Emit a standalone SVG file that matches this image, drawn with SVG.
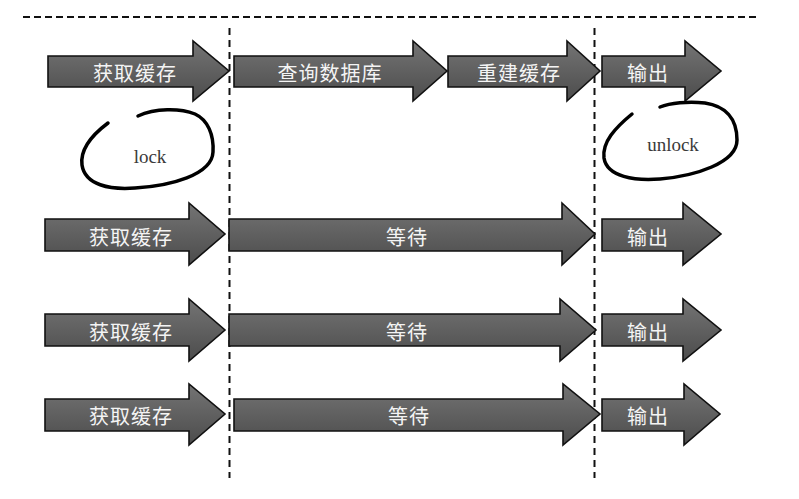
<svg xmlns="http://www.w3.org/2000/svg" width="799" height="499" viewBox="0 0 799 499">
<defs>
<linearGradient id="g" x1="0" y1="0" x2="0" y2="1">
<stop offset="0" stop-color="#747474"/>
<stop offset="1" stop-color="#4c4c4c"/>
</linearGradient>
<style>
.arr{fill:url(#g);stroke:#111;stroke-width:1.6;stroke-linejoin:miter}
.lbl{fill:#f4f4f4;font-family:"Noto Sans CJK SC","Noto Sans",sans-serif;font-size:20px;letter-spacing:1px;text-anchor:middle;dominant-baseline:central}
.dash{stroke:#111;stroke-width:2;fill:none}
.loop{fill:none;stroke:#000;stroke-width:3.5;stroke-linecap:round}
.hand{fill:#3a3a3a;font-family:"Liberation Serif",serif;font-size:19px;text-anchor:middle}
</style>
</defs>
<rect width="799" height="499" fill="#fff"/>
<g id="guides">
<line class="dash" x1="23" y1="17" x2="758" y2="17" stroke-dasharray="7 4" stroke-width="1.6"/>
<line class="dash" x1="229.5" y1="28" x2="229.5" y2="478" stroke-dasharray="7 5"/>
<line class="dash" x1="594.5" y1="28" x2="594.5" y2="478" stroke-dasharray="7 5"/>
</g>
<g id="row1">
<g id="r1-get"><polygon class="arr" points="48,56 193,56 193,41 229,71 193,101 193,87 48,87"/><text class="lbl" x="135" y="72">获取缓存</text></g>
<g id="r1-query"><polygon class="arr" points="234,56 413,56 413,41 447,71 413,101 413,87 234,87"/><text class="lbl" x="330" y="72">查询数据库</text></g>
<g id="r1-rebuild"><polygon class="arr" points="448,56 567,56 567,41 600,71 567,101 567,87 448,87"/><text class="lbl" x="519" y="72">重建缓存</text></g>
<g id="r1-out"><polygon class="arr" points="602,56 685,56 685,41 721,71 685,101 685,87 602,87"/><text class="lbl" x="648" y="72">输出</text></g>
</g>
<g id="lock">
<path class="loop" d="M108,123 C92,135 80,150 82,165 C85,185 110,190 135,188 C170,186 212,175 213,152 C214,135 208,120 195,114 C180,108 155,108 138,116"/>
<text class="hand" x="150" y="163">lock</text>
</g>
<g id="unlock">
<path class="loop" d="M632,114 C615,128 602,142 604,158 C607,177 635,181 660,179 C695,176 737,163 737,140 C737,118 725,106 705,103 C688,101 670,103 660,107"/>
<text class="hand" x="673" y="151">unlock</text>
</g>
<g id="row2">
<g id="r2-get"><polygon class="arr" points="45,219 189,219 189,203 225,234 189,265 189,251 45,251"/><text class="lbl" x="131" y="236">获取缓存</text></g>
<g id="r2-wait"><polygon class="arr" points="229,219 562,219 562,203 595,234 562,265 562,251 229,251"/><text class="lbl" x="407" y="236">等待</text></g>
<g id="r2-out"><polygon class="arr" points="602,219 683,219 683,203 721,234 683,265 683,251 602,251"/><text class="lbl" x="648" y="236">输出</text></g>
</g>
<g id="row3">
<g id="r3-get"><polygon class="arr" points="45,314 189,314 189,299 225,330 189,361 189,346 45,346"/><text class="lbl" x="131" y="331">获取缓存</text></g>
<g id="r3-wait"><polygon class="arr" points="229,314 560,314 560,299 596,330 560,361 560,346 229,346"/><text class="lbl" x="407" y="331">等待</text></g>
<g id="r3-out"><polygon class="arr" points="602,314 683,314 683,299 721,330 683,361 683,346 602,346"/><text class="lbl" x="648" y="331">输出</text></g>
</g>
<g id="row4">
<g id="r4-get"><polygon class="arr" points="45,399 189,399 189,384 225,414 189,445 189,431 45,431"/><text class="lbl" x="131" y="415">获取缓存</text></g>
<g id="r4-wait"><polygon class="arr" points="234,399 563,399 563,384 600,414 563,445 563,431 234,431"/><text class="lbl" x="409" y="415">等待</text></g>
<g id="r4-out"><polygon class="arr" points="602,399 684,399 684,384 720,414 684,445 684,431 602,431"/><text class="lbl" x="648" y="415">输出</text></g>
</g>
</svg>
